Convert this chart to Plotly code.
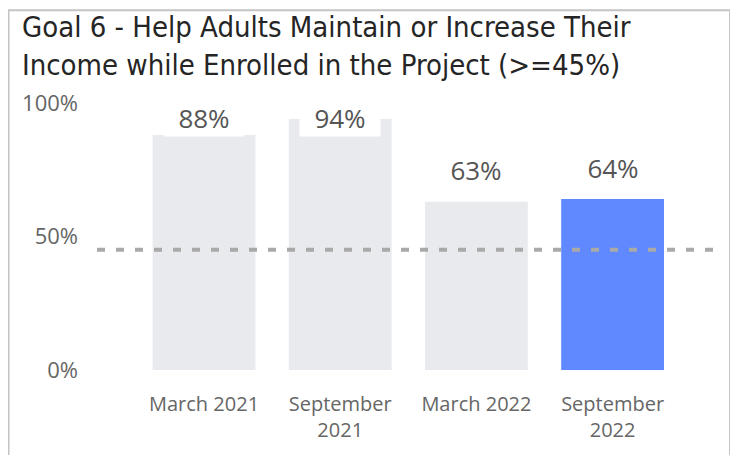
import plotly.graph_objects as go

categories = ["March 2021", "September 2021", "March 2022", "September 2022"]
tick_labels = ["March 2021", "September<br>2021", "March 2022", "September<br>2022"]
values = [88, 94, 63, 64]
highlight = [False, False, False, True]
target = 45
y_ticks = [0, 50, 100]
y_tick_labels = ["0%", "50%", "100%"]

# page body has an 8px default margin, so the figure is drawn at (8, 8)
OFF = 8
W, H = 738 - OFF, 455 - OFF
L, R, T, B = 97 - OFF, 14, 103 - OFF, 455 - 372
pw = W - L - R
ph = H - T - B

GRAY = "#E8EAED"
BLUE = "#6089FF"
colors = [BLUE if h else GRAY for h in highlight]

fig = go.Figure()
fig.add_trace(go.Bar(
    x=list(range(len(categories))), y=values, marker_color=colors,
    marker_line_width=0, width=0.755, hoverinfo="skip",
))

# data labels (clamped near top of plot, Power BI style)
for i, v in enumerate(values):
    ly = min(v + 11.8, 94.3)
    fig.add_annotation(
        x=i, y=ly, text=f"{v}%", showarrow=False, xref="x", yref="y",
        yanchor="middle", xanchor="center",
        font=dict(family="Open Sans", size=26, color="#555555"),
        bgcolor="white" if ly < v + 8 else "rgba(0,0,0,0)",
        borderpad=0, width=80,
    )

# target dashed line
fig.add_shape(type="line", xref="paper", x0=0, x1=1, yref="y", y0=target, y1=target,
              line=dict(color="#A9A9A9", width=4, dash="8px,11px"), layer="above")

# frame border
def px_x(p):
    return (p - OFF - L) / pw
def px_y(p):
    return (H - B - (p - OFF)) / ph
fig.add_shape(type="rect", xref="paper", yref="paper",
              x0=px_x(8.5), x1=px_x(730), y0=px_y(475), y1=px_y(9.5),
              line=dict(color="#C4C4C4", width=2), fillcolor="rgba(0,0,0,0)", layer="below")

fig.add_annotation(
    x=px_x(20), y=px_y(7), xref="paper", yref="paper", xanchor="left", yanchor="top",
    text="Goal 6 - Help Adults Maintain or Increase Their<br>Income while Enrolled in the Project (>=45%)",
    showarrow=False, align="left",
    font=dict(family="Liberation Sans Narrow, DejaVu Sans Condensed, Arial Narrow, sans-serif", size=29, color="#252525"),
)

fig.update_layout(
    width=W, height=H, margin=dict(l=L, r=R, t=T, b=B),
    paper_bgcolor="white", plot_bgcolor="white", showlegend=False, bargap=0.25,
    xaxis=dict(range=[-0.786, 3.818], tickvals=list(range(len(categories))), ticktext=tick_labels,
               showgrid=False, zeroline=False, showline=False, ticks="",
               tickfont=dict(family="Open Sans", size=20, color="#666666"), ticklabelstandoff=20),
    yaxis=dict(range=[0, 100], tickvals=y_ticks, ticktext=y_tick_labels, showgrid=False,
               zeroline=False, showline=False, ticks="",
               tickfont=dict(family="Open Sans", size=22, color="#666666"), ticklabelstandoff=18),
)

fig.write_html("out.html")
